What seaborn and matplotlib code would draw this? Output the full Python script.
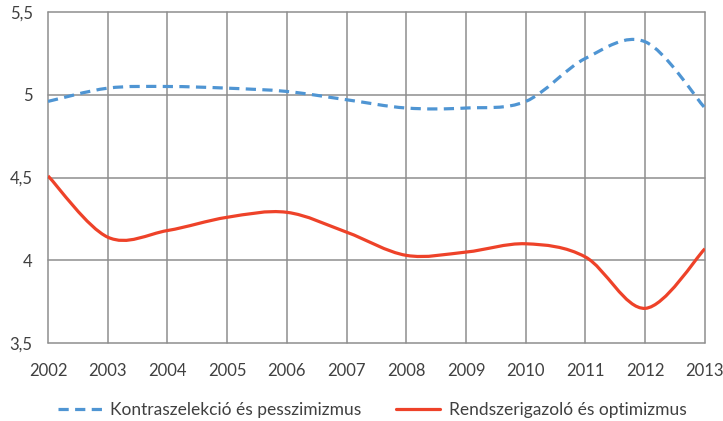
import numpy as np
import matplotlib
matplotlib.use("Agg")
import matplotlib.pyplot as plt
from matplotlib.path import Path
from matplotlib.patches import PathPatch
from matplotlib.lines import Line2D
import seaborn as sns

years = [2002, 2003, 2004, 2005, 2006, 2007, 2008, 2009, 2010, 2011, 2012, 2013]
kontra = [4.96, 5.04, 5.05, 5.04, 5.02, 4.97, 4.92, 4.92, 4.96, 5.22, 5.32, 4.92]
rendsz = [4.51, 4.14, 4.18, 4.26, 4.29, 4.17, 4.03, 4.05, 4.10, 4.02, 3.71, 4.07]
labels = ["Kontraszelekció és pesszimizmus", "Rendszerigazoló és optimizmus"]
yticks = [3.5, 4, 4.5, 5, 5.5]
ytick_labels = ["3,5", "4", "4,5", "5", "5,5"]

BLUE = "#4f95d3"
RED = "#ee4229"
GRID = "#8e8e8e"
TXT = "#404040"

sns.set_theme(style="white")
plt.rcParams["font.family"] = ["Lato", "DejaVu Sans"]


def smooth_path(x, y):
    # Excel-style smoothed line: cubic bezier through every point
    pts = np.column_stack([x, y]).astype(float)
    ext = np.vstack([pts[0], pts, pts[-1]])
    verts = [pts[0]]
    codes = [Path.MOVETO]
    for i in range(len(pts) - 1):
        p0, p1, p2, p3 = ext[i], ext[i + 1], ext[i + 2], ext[i + 3]
        c1 = p1 + (p2 - p0) / 6.0
        c2 = p2 - (p3 - p1) / 6.0
        verts += [c1, c2, p2]
        codes += [Path.CURVE4] * 3
    return Path(verts, codes)


fig = plt.figure(figsize=(7.23, 4.21), dpi=100)
ax = fig.add_axes([0.0664, 0.185, 0.9086, 0.7865])

ax.add_patch(PathPatch(smooth_path(years, kontra), fill=False, edgecolor=BLUE,
                       lw=2.3, linestyle=(0, (3.2, 2.0)), capstyle="butt", zorder=3))
ax.add_patch(PathPatch(smooth_path(years, rendsz), fill=False, edgecolor=RED,
                       lw=2.3, zorder=3))

ax.set_xlim(2002, 2013)
ax.set_ylim(3.5, 5.5)
ax.set_xticks(years)
ax.set_xticklabels([str(y) for y in years])
ax.set_yticks(yticks)
ax.set_yticklabels(ytick_labels)
ax.tick_params(axis="both", length=0, labelsize=12, colors=TXT)
ax.tick_params(axis="y", pad=11)
ax.tick_params(axis="x", pad=14)
for s in ax.spines.values():
    s.set_visible(False)
ax.grid(True, color=GRID, lw=1.1)
for gl in ax.get_xgridlines() + ax.get_ygridlines():
    gl.set_clip_on(False)
ax.set_axisbelow(True)

handles = [Line2D([], [], color=BLUE, lw=2.3, linestyle=(0, (3.2, 2.0))),
           Line2D([], [], color=RED, lw=2.3)]
fig.legend(handles, labels, loc="center", bbox_to_anchor=(0.515, 0.026), ncol=2,
           frameon=False, fontsize=12.5, handlelength=2.5, handletextpad=0.5,
           columnspacing=2.0, labelcolor=TXT)

fig.savefig("out.png", dpi=100)
